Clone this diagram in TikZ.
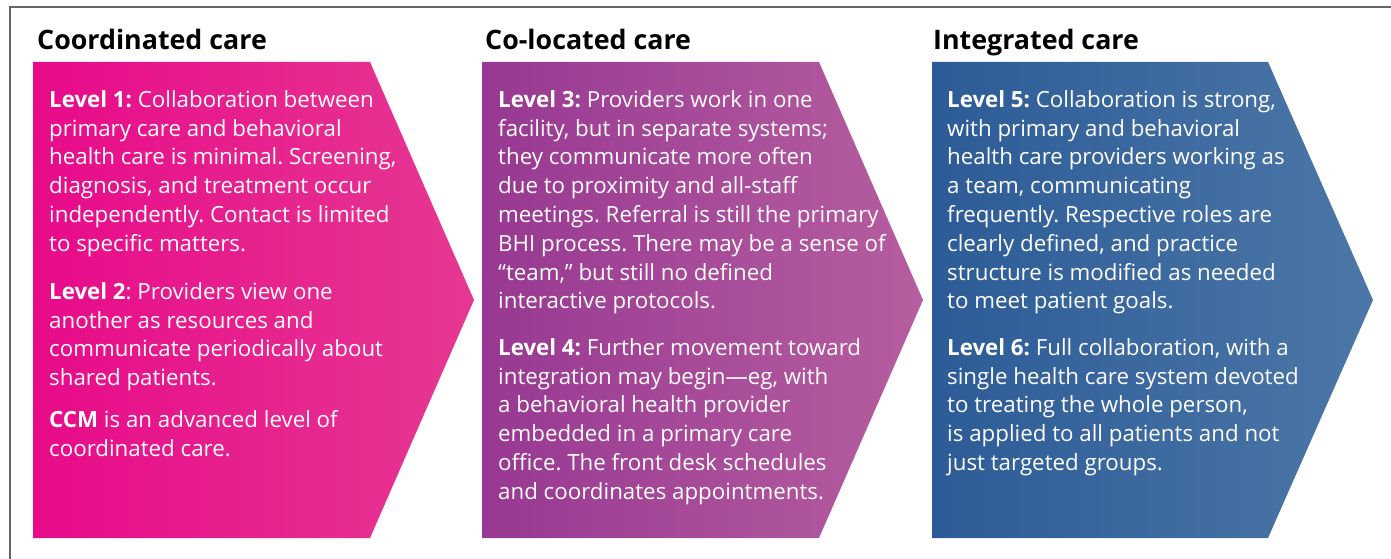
\documentclass[tikz,border=0pt]{standalone}
\usepackage{fontspec}
\setmainfont{Open Sans}
\frenchspacing
% strut that fixes the top of each paragraph relative to its first baseline
\newcommand{\topstrut}{\rule{0pt}{20pt}}
\begin{document}
\begin{tikzpicture}[x=1pt,y=-1pt,
  title/.style={anchor=base west,inner sep=0pt,font=\fontsize{26.8}{30}\selectfont\bfseries,text=black},
  body/.style={anchor=north west,inner sep=0pt,align=left,text=white,
    font=\fontsize{22.3}{28.8}\selectfont},
  frame/.style={draw=black!60,line width=2pt}]
\useasboundingbox (0,0) rectangle (1391,559);
% outer frame, open at right and bottom
\draw[frame] (10,570) -- (10,7) -- (1400,7);
% chevrons
\shade[left color={rgb,255:red,232;green,10;blue,138},right color={rgb,255:red,230;green,56;blue,146}]
  (33,62) -- (370,62) -- (474,300) -- (370,538) -- (33,538) -- cycle;
\shade[left color={rgb,255:red,152;green,56;blue,146},right color={rgb,255:red,182;green,94;blue,160}]
  (482,62) -- (819,62) -- (923,300) -- (819,538) -- (482,538) -- cycle;
\shade[left color={rgb,255:red,44;green,91;blue,151},right color={rgb,255:red,76;green,119;blue,167}]
  (932,62) -- (1268,62) -- (1373,300) -- (1268,538) -- (932,538) -- cycle;
% titles
\node[title] (t1) at (37,50) {Coordinated care};
\node[title] (t2) at (485,50) {Co-located care};
\node[title] (t3) at (933,50) {Integrated care};
% column 1 (node top = first baseline - 20)
\node[body] (l1) at (49,87) {\topstrut\textbf{Level 1:} Collaboration between\\primary care and behavioral\\health care is minimal. Screening,\\diagnosis, and treatment occur\\independently. Contact is limited\\to specific matters.};
\node[body] (l2) at (49,279) {\topstrut\textbf{Level 2}: Providers view one\\another as resources and\\communicate periodically about\\shared patients.};
\node[body] (ccm) at (49,407) {\topstrut\textbf{CCM} is an advanced level of\\coordinated care.};
% column 2
\node[body] (l3) at (498,87) {\topstrut\textbf{Level 3:} Providers work in one\\facility, but in separate systems;\\they communicate more often\\due to proximity and all-staff\\meetings. Referral is still the primary\\BHI process. There may be a sense of\\“team,” but still no defined\\interactive protocols.};
\node[body] (l4) at (498,335) {\topstrut\textbf{Level 4:} Further movement toward\\integration may begin—eg, with\\a behavioral health provider\\embedded in a primary care\\office. The front desk schedules\\and coordinates appointments.};
% column 3
\node[body] (l5) at (947,87) {\topstrut\textbf{Level 5:} Collaboration is strong,\\with primary and behavioral\\health care providers working as\\a team, communicating\\frequently. Respective roles are\\clearly defined, and practice\\structure is modified as needed\\to meet patient goals.};
\node[body] (l6) at (947,335) {\topstrut\textbf{Level 6:} Full collaboration, with a\\single health care system devoted\\to treating the whole person,\\is applied to all patients and not\\just targeted groups.};
\end{tikzpicture}
\end{document}
